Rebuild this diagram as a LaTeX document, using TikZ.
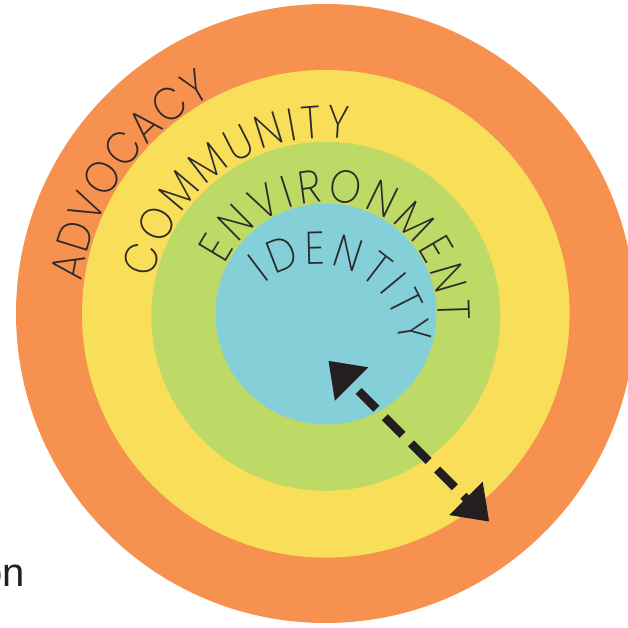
\documentclass[tikz,border=0pt]{standalone}
\usepackage{fontspec}
\IfFontExistsTF{Poppins ExtraLight}{\newfontfamily\ringfont{Poppins ExtraLight}[FakeStretch=0.88]}{%
  \IfFontExistsTF{Poppins Light}{\newfontfamily\ringfont{Poppins Light}[FakeStretch=0.88]}{\newfontfamily\ringfont{Poppins}[FakeStretch=0.88]}}
\newfontfamily\onfont{Liberation Sans}
\usetikzlibrary{decorations.text,arrows.meta}
\definecolor{orng}{HTML}{F69150}
\definecolor{yllw}{HTML}{F9DE59}
\definecolor{grn}{HTML}{BDD966}
\definecolor{blu}{HTML}{85D0D8}
\definecolor{txt}{HTML}{2B2A2A}
\definecolor{arr}{HTML}{231F20}
\tikzset{
  ringtext/.style={decorate, decoration={text along path,
     text={|\ringfont\fontsize{46}{46}\selectfont|#1},
     text align={fit to path}, text color=txt}},
  disc/.style={fill=#1, draw=none}
}
\begin{document}
\begin{tikzpicture}[x=1pt,y=1pt]
\useasboundingbox (0,0) rectangle (628,628);
\fill[white] (0,0) rectangle (628,628);
\coordinate (c) at (326,314);
\coordinate (ci) at (317.4,281.5);
% rings
\fill[disc=orng] (325.5,314.5) circle[radius=309.5];
\fill[disc=yllw] (325.8,314.2) circle[radius=243.8];
\fill[disc=grn] (325.8,311.7) circle[radius=174.5];
\fill[disc=blu] (326,314) circle[radius=110.5];
% curved labels
\path[ringtext={ADVOCACY}] ([shift={(172.5:246)}]c) arc[start angle=172.5,end angle=117.5,radius=246];
\path[ringtext={COMMUNITY}] ([shift={(168.5:176)}]c) arc[start angle=168.5,end angle=82.7,radius=176];
\path[ringtext={ENVIRONMENT}] ([shift={(154:112)}]c) arc[start angle=154,end angle=-3.3,radius=112];
\path[ringtext={IDENTITY}] ([shift={(130:82.3)}]ci) arc[start angle=130,end angle=1.5,radius=82.3];
% arrow
\coordinate (t1) at (328.3,267.3);
\coordinate (t2) at (489.3,106.3);
\draw[arr, line width=8.5pt, dash pattern=on 25pt off 12pt, dash phase=25pt,
  {Triangle[length={33pt 0},width={45pt 0}]}-{Triangle[length={33pt 0},width={45pt 0}]}] (t1) -- (t2);
% cut-off text
\node[anchor=base east, inner sep=0pt, text=arr, font=\onfont\fontsize{40}{40}\selectfont] (on) at (25.3,41) {on};
\end{tikzpicture}
\end{document}
